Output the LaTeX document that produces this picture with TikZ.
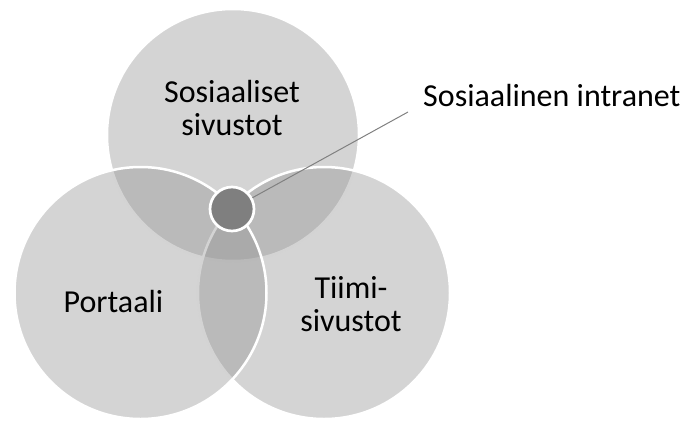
\documentclass[tikz,border=0pt]{standalone}
\usepackage{fontspec}
\setmainfont{Carlito}
\definecolor{vfill}{RGB}{147,147,147}
\definecolor{core}{RGB}{127,127,127}
\definecolor{leader}{RGB}{128,128,128}
\begin{document}
\begin{tikzpicture}[x=1pt,y=-1pt,
  venn/.style={circle,minimum size=252pt,inner sep=0pt,fill=vfill,fill opacity=0.4,draw=white,draw opacity=1,line width=2.5pt},
  lbl/.style={font=\fontsize{32}{33}\selectfont,align=center,inner sep=0pt,text=black},
  corenode/.style={circle,minimum size=44pt,inner sep=0pt,fill=core,draw=white,line width=2.7pt}]
\useasboundingbox (0,0) rectangle (683,421);
\node[venn] (top) at (233,135) {};
\node[venn] (right) at (324,293) {};
\node[venn] (left) at (140.5,293) {};
\node[corenode] (sc) at (232,209) {};
\coordinate (lend) at (408,112);
\draw[leader,line width=1pt] (sc) -- (lend);
\node[lbl,anchor=base] (t1) at (232,135) {Sosiaaliset\\sivustot};
\node[lbl,anchor=base] (t2) at (113.5,312) {Portaali};
\node[lbl,anchor=base] (t3) at (351,331) {Tiimi-\\sivustot};
\node[lbl,anchor=base west] (t4) at (423,106) {Sosiaalinen intranet};
\end{tikzpicture}
\end{document}
